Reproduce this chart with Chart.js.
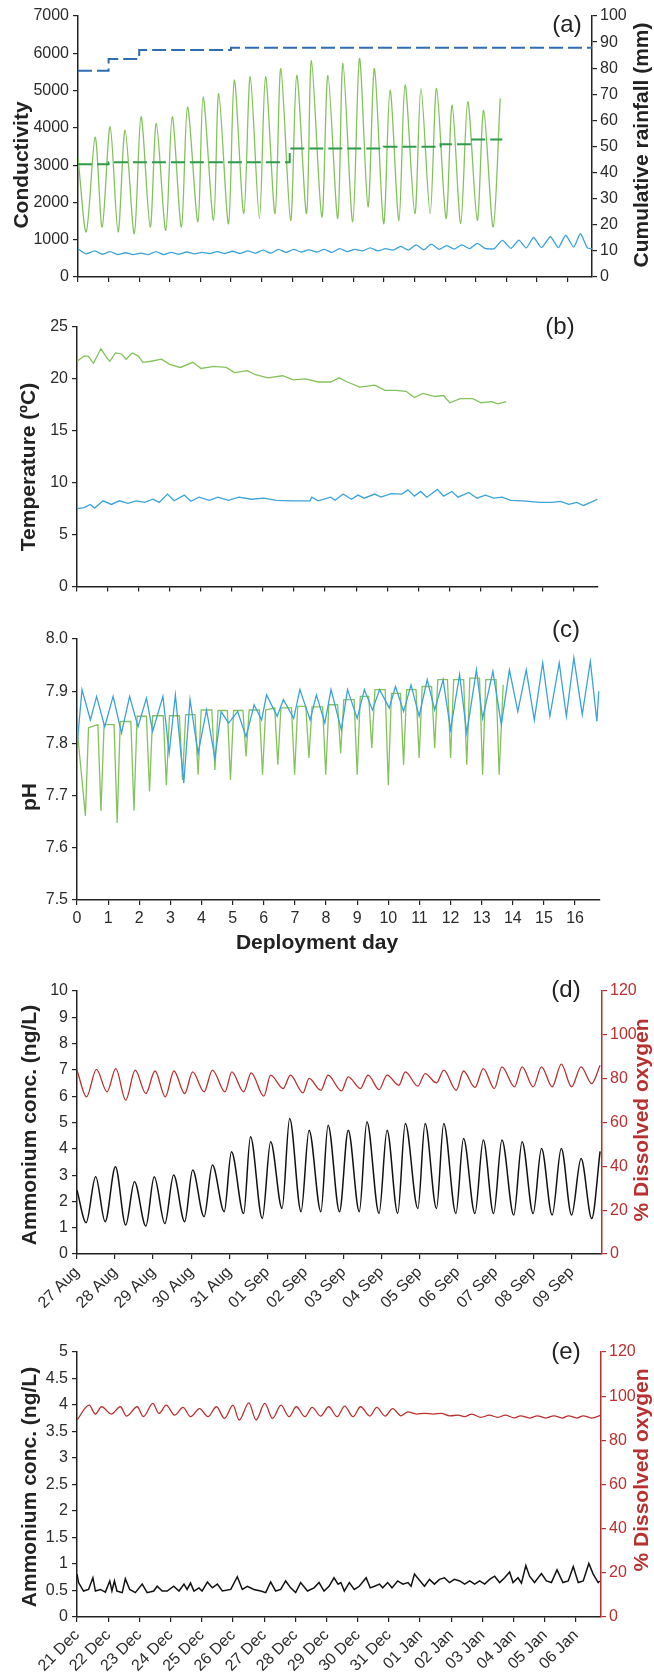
<!DOCTYPE html>
<html>
<head>
<meta charset="utf-8">
<script src="https://cdn.jsdelivr.net/npm/chart.js@4.4.1/dist/chart.umd.min.js"></script>
<style>
  html, body { margin: 0; padding: 0; background: #fff; }
  #wrap { position: relative; width: 654px; height: 1675px; }
  canvas { position: absolute; left: 0; }
</style>
</head>
<body>
<div id="wrap">
  <canvas id="pa" width="654" height="300" style="top:0px;width:654px;height:300px"></canvas>
  <canvas id="pb" width="654" height="300" style="top:300px;width:654px;height:300px"></canvas>
  <canvas id="pc" width="654" height="360" style="top:600px;width:654px;height:360px"></canvas>
  <canvas id="pd" width="654" height="350" style="top:960px;width:654px;height:350px"></canvas>
  <canvas id="pe" width="654" height="365" style="top:1310px;width:654px;height:365px"></canvas>
</div>
<script>
// ---- data (x = deployment day) ----
// (a) conductivity
const aGreenDays = [0, 0.27, 0.56, 0.79, 1.05, 1.31, 1.54, 1.84, 2.06, 2.36, 2.56, 2.87, 3.08, 3.38, 3.58, 3.92, 4.09, 4.43, 4.60, 4.92, 5.11, 5.42, 5.63, 5.93, 6.13, 6.44, 6.63, 6.95, 7.15, 7.47, 7.63, 7.97, 8.17, 8.49, 8.66, 8.98, 9.20, 9.48, 9.69, 9.99, 10.20, 10.49, 10.69, 11.01, 11.21, 11.51, 11.72, 12.03, 12.23, 12.51, 12.74, 13.05, 13.26, 13.57, 13.80];
const aGreenCond = [3200, 1210, 3750, 1340, 4030, 1210, 3940, 1160, 4300, 1340, 4120, 1250, 4300, 1340, 4560, 1480, 4830, 1520, 4920, 1430, 5280, 1700, 5370, 1570, 5370, 1700, 5590, 1520, 5410, 1700, 5800, 1610, 5410, 1570, 5730, 1480, 5860, 1880, 5590, 1430, 5010, 1520, 5150, 1700, 5060, 1700, 5060, 1570, 4610, 1430, 4700, 1520, 4470, 1340, 4790];
const aBlueDays = [0, 0.25, 0.55, 0.8, 1.05, 1.3, 1.55, 1.8, 2.05, 2.3, 2.55, 2.8, 3.05, 3.3, 3.55, 3.8, 4.05, 4.3, 4.55, 4.8, 5.05, 5.3, 5.55, 5.8, 6.05, 6.3, 6.55, 6.8, 7.05, 7.3, 7.55, 7.8, 8.05, 8.3, 8.55, 8.8, 9.05, 9.3, 9.55, 9.8, 10.05, 10.3, 10.55, 10.8, 11.05, 11.3, 11.55, 11.8, 12.05, 12.3, 12.55, 12.8, 13.05, 13.3, 13.6, 13.87, 14.15, 14.41, 14.65, 14.89, 15.15, 15.44, 15.7, 15.94, 16.2, 16.42, 16.65, 16.8];
const aBlueCond = [760, 620, 700, 610, 680, 600, 650, 600, 640, 600, 680, 600, 660, 610, 670, 620, 660, 630, 680, 630, 690, 630, 700, 640, 720, 640, 740, 660, 740, 670, 730, 670, 740, 660, 760, 680, 740, 700, 780, 700, 760, 720, 820, 720, 860, 730, 880, 740, 840, 750, 860, 760, 900, 770, 760, 980, 770, 990, 780, 1060, 790, 1080, 790, 1120, 800, 1160, 780, 760];
// cumulative rainfall (right axis, mm)
const rainBlueDays = [0, 1.0, 2.0, 5.0, 16.8];
const rainBlueMm = [79, 83.5, 87, 87.8, 87.8];
const rainGreenDays = [0, 1.0, 6.92, 9.99, 11.85, 12.85, 13.87];
const rainGreenMm = [43.2, 44, 49.2, 49.9, 50.9, 52.7, 52.7];

// (b) temperature
const bGreenDays = [0, 0.23, 0.36, 0.53, 0.77, 0.97, 1.06, 1.24, 1.44, 1.58, 1.78, 1.98, 2.12, 2.39, 2.72, 2.99, 3.33, 3.73, 4.00, 4.41, 4.81, 5.08, 5.49, 5.75, 6.16, 6.63, 6.97, 7.37, 7.78, 8.18, 8.45, 8.72, 9.12, 9.60, 9.93, 10.27, 10.61, 10.88, 11.15, 11.55, 11.82, 12.02, 12.36, 12.76, 13.03, 13.37, 13.57, 13.84];
const bGreenTemp = [21.7, 22.2, 22.2, 21.5, 22.9, 22.0, 21.7, 22.5, 22.4, 21.9, 22.5, 22.2, 21.6, 21.7, 21.9, 21.4, 21.1, 21.6, 21.0, 21.2, 21.1, 20.6, 20.8, 20.4, 20.1, 20.3, 19.9, 20.0, 19.7, 19.7, 20.1, 19.7, 19.2, 19.4, 18.9, 18.9, 18.8, 18.2, 18.6, 18.3, 18.4, 17.7, 18.1, 18.1, 17.7, 17.8, 17.6, 17.8];
const bBlueDays = [0, 0.23, 0.43, 0.57, 0.84, 1.11, 1.37, 1.64, 1.91, 2.18, 2.45, 2.65, 2.92, 3.13, 3.46, 3.67, 3.94, 4.27, 4.54, 4.88, 5.22, 5.62, 6.02, 6.43, 6.97, 7.51, 7.57, 7.78, 8.18, 8.32, 8.58, 8.85, 9.06, 9.26, 9.60, 9.80, 10.13, 10.47, 10.67, 10.88, 11.08, 11.28, 11.62, 11.82, 12.09, 12.29, 12.63, 12.90, 13.17, 13.44, 13.71, 13.98, 14.38, 14.92, 15.32, 15.59, 15.86, 16.12, 16.33, 16.60, 16.78];
const bBlueTemp = [7.5, 7.6, 7.9, 7.55, 8.25, 7.9, 8.25, 8.0, 8.25, 8.1, 8.4, 8.1, 8.9, 8.25, 8.8, 8.2, 8.6, 8.3, 8.6, 8.3, 8.6, 8.4, 8.5, 8.3, 8.25, 8.25, 8.6, 8.25, 8.6, 8.3, 8.9, 8.4, 8.8, 8.5, 8.9, 8.6, 8.95, 8.9, 9.3, 8.7, 9.15, 8.6, 9.35, 8.7, 9.15, 8.6, 9.05, 8.5, 8.8, 8.5, 8.6, 8.3, 8.25, 8.1, 8.1, 8.2, 7.9, 8.1, 7.8, 8.15, 8.4];

// (c) pH
const cGreenDays = [0, 0.27, 0.37, 0.67, 0.77, 0.87, 1.19, 1.29, 1.39, 1.73, 1.83, 1.93, 2.23, 2.33, 2.43, 2.77, 2.87, 2.97, 3.29, 3.39, 3.49, 3.79, 3.89, 3.99, 4.33, 4.43, 4.53, 4.83, 4.93, 5.03, 5.33, 5.43, 5.53, 5.86, 5.96, 6.06, 6.35, 6.45, 6.55, 6.89, 6.99, 7.09, 7.35, 7.45, 7.55, 7.89, 7.99, 8.09, 8.37, 8.47, 8.57, 8.9, 9.0, 9.1, 9.37, 9.47, 9.57, 9.9, 10.0, 10.1, 10.39, 10.49, 10.59, 10.89, 10.99, 11.09, 11.39, 11.49, 11.59, 11.9, 12.0, 12.1, 12.42, 12.52, 12.62, 12.93, 13.03, 13.13, 13.46, 13.56, 13.69];
const cGreenPh = [7.83, 7.661, 7.83, 7.836, 7.671, 7.836, 7.836, 7.648, 7.842, 7.842, 7.671, 7.852, 7.852, 7.708, 7.853, 7.853, 7.72, 7.853, 7.853, 7.73, 7.855, 7.855, 7.74, 7.864, 7.864, 7.749, 7.863, 7.863, 7.73, 7.863, 7.863, 7.775, 7.864, 7.864, 7.74, 7.864, 7.868, 7.759, 7.868, 7.868, 7.74, 7.871, 7.871, 7.772, 7.87, 7.87, 7.74, 7.874, 7.874, 7.781, 7.884, 7.884, 7.74, 7.89, 7.89, 7.791, 7.903, 7.903, 7.72, 7.896, 7.896, 7.759, 7.903, 7.903, 7.772, 7.909, 7.909, 7.791, 7.922, 7.922, 7.772, 7.922, 7.922, 7.759, 7.925, 7.925, 7.74, 7.922, 7.922, 7.74, 7.912];
const cBlueDays = [0, 0.16, 0.43, 0.63, 0.89, 1.16, 1.43, 1.69, 1.96, 2.23, 2.43, 2.76, 2.96, 3.16, 3.43, 3.63, 3.89, 4.16, 4.43, 4.63, 4.87, 5.16, 5.43, 5.69, 5.93, 6.09, 6.43, 6.63, 6.96, 7.16, 7.49, 7.69, 7.96, 8.16, 8.49, 8.69, 9.00, 9.23, 9.49, 9.72, 10.03, 10.23, 10.49, 10.73, 10.99, 11.25, 11.49, 11.76, 12.0, 12.29, 12.52, 12.83, 13.03, 13.36, 13.63, 13.89, 14.16, 14.43, 14.69, 14.96, 15.19, 15.49, 15.72, 15.96, 16.23, 16.49, 16.70, 16.76];
const cBluePh = [7.794, 7.903, 7.845, 7.89, 7.832, 7.89, 7.82, 7.89, 7.832, 7.887, 7.823, 7.89, 7.781, 7.893, 7.724, 7.884, 7.781, 7.864, 7.772, 7.861, 7.839, 7.861, 7.813, 7.874, 7.845, 7.893, 7.852, 7.884, 7.848, 7.903, 7.845, 7.893, 7.839, 7.903, 7.826, 7.903, 7.848, 7.903, 7.864, 7.903, 7.868, 7.909, 7.861, 7.912, 7.852, 7.922, 7.864, 7.922, 7.826, 7.932, 7.82, 7.941, 7.848, 7.938, 7.836, 7.941, 7.861, 7.941, 7.845, 7.954, 7.852, 7.954, 7.852, 7.964, 7.855, 7.957, 7.842, 7.90];
const dayTicks = ['0', '1', '2', '3', '4', '5', '6', '7', '8', '9', '10', '11', '12', '13', '14', '15', '16'];

// (d) ammonium + dissolved oxygen, days from 27 Aug
const dDates = ['27 Aug', '28 Aug', '29 Aug', '30 Aug', '31 Aug', '01 Sep', '02 Sep', '03 Sep', '04 Sep', '05 Sep', '06 Sep', '07 Sep', '08 Sep', '09 Sep'];
const dAmmDays = [0, 0.24, 0.49, 0.74, 1.01, 1.28, 1.51, 1.81, 2.03, 2.31, 2.54, 2.83, 3.04, 3.34, 3.56, 3.87, 4.06, 4.38, 4.56, 4.87, 5.09, 5.39, 5.59, 5.89, 6.10, 6.41, 6.60, 6.90, 7.13, 7.42, 7.62, 7.94, 8.15, 8.43, 8.63, 8.96, 9.15, 9.45, 9.64, 9.96, 10.16, 10.46, 10.68, 10.95, 11.17, 11.48, 11.70, 11.99, 12.21, 12.49, 12.73, 13.0, 13.25, 13.53, 13.75];
const dAmm = [2.43, 1.19, 2.94, 1.23, 3.32, 1.10, 2.75, 1.06, 2.94, 1.16, 3.0, 1.23, 3.19, 1.42, 3.38, 1.61, 3.89, 1.54, 4.46, 1.35, 4.27, 1.73, 5.15, 1.61, 4.71, 1.61, 4.9, 1.61, 4.71, 1.61, 5.03, 1.54, 4.71, 1.54, 4.96, 1.73, 4.96, 1.73, 4.96, 1.54, 4.39, 1.54, 4.33, 1.54, 4.33, 1.48, 4.27, 1.54, 4.01, 1.48, 4.01, 1.48, 3.63, 1.35, 3.9];
const dDoDays = [0, 0.25, 0.51, 0.79, 1.02, 1.28, 1.53, 1.81, 2.05, 2.32, 2.55, 2.83, 3.04, 3.34, 3.56, 3.89, 4.07, 4.38, 4.58, 4.91, 5.09, 5.42, 5.61, 5.94, 6.10, 6.41, 6.60, 6.95, 7.13, 7.45, 7.65, 7.94, 8.15, 8.46, 8.63, 8.96, 9.15, 9.45, 9.64, 9.97, 10.16, 10.46, 10.68, 10.97, 11.17, 11.50, 11.70, 11.99, 12.21, 12.49, 12.73, 13.0, 13.25, 13.53, 13.75];
const dDo = [83.9, 71.7, 84.2, 74.0, 84.6, 70.2, 83.9, 73.2, 83.5, 71.7, 83.5, 73.2, 83.1, 74.0, 83.9, 74.0, 83.1, 74.0, 82.6, 72.0, 81.6, 75.5, 81.6, 73.5, 80.1, 74.7, 81.6, 74.4, 80.8, 75.5, 81.6, 75.0, 81.6, 77.0, 83.1, 76.6, 82.3, 78.1, 83.9, 74.7, 83.5, 76.0, 84.6, 75.5, 85.4, 76.3, 85.4, 76.3, 85.4, 76.3, 86.6, 76.3, 85.4, 77.8, 86.1];

// (e) ammonium + dissolved oxygen, days from 21 Dec
const eDates = ['21 Dec', '22 Dec', '23 Dec', '24 Dec', '25 Dec', '26 Dec', '27 Dec', '28 Dec', '29 Dec', '30 Dec', '31 Dec', '01 Jan', '02 Jan', '03 Jan', '04 Jan', '05 Jan', '06 Jan'];
const eAmmDays = [0, 0.05, 0.21, 0.37, 0.51, 0.59, 0.75, 0.91, 1.05, 1.12, 1.20, 1.28, 1.45, 1.55, 1.69, 1.87, 2.09, 2.25, 2.46, 2.57, 2.73, 2.89, 3.10, 3.27, 3.43, 3.53, 3.64, 3.75, 3.91, 4.01, 4.18, 4.34, 4.50, 4.66, 4.93, 5.14, 5.30, 5.46, 5.67, 5.89, 6.05, 6.21, 6.37, 6.53, 6.69, 6.85, 7.01, 7.17, 7.39, 7.60, 7.76, 7.92, 8.08, 8.24, 8.37, 8.46, 8.57, 8.73, 8.89, 9.05, 9.27, 9.40, 9.54, 9.70, 9.80, 9.96, 10.10, 10.28, 10.45, 10.61, 10.71, 10.82, 11.00, 11.14, 11.30, 11.46, 11.62, 11.78, 11.94, 12.10, 12.27, 12.43, 12.59, 12.75, 12.91, 13.07, 13.23, 13.39, 13.55, 13.71, 13.87, 13.98, 14.14, 14.25, 14.39, 14.51, 14.67, 14.89, 15.05, 15.21, 15.39, 15.58, 15.75, 15.91, 16.07, 16.23, 16.41, 16.55, 16.71, 16.76];
const eAmm = [0.81, 0.65, 0.49, 0.52, 0.74, 0.49, 0.52, 0.47, 0.68, 0.49, 0.68, 0.49, 0.46, 0.72, 0.52, 0.46, 0.62, 0.46, 0.49, 0.58, 0.49, 0.49, 0.58, 0.49, 0.62, 0.52, 0.64, 0.49, 0.55, 0.49, 0.66, 0.55, 0.62, 0.49, 0.52, 0.76, 0.52, 0.58, 0.52, 0.49, 0.46, 0.66, 0.49, 0.52, 0.68, 0.55, 0.46, 0.65, 0.49, 0.55, 0.65, 0.49, 0.58, 0.74, 0.62, 0.65, 0.49, 0.65, 0.52, 0.58, 0.74, 0.55, 0.58, 0.62, 0.55, 0.65, 0.55, 0.68, 0.62, 0.65, 0.58, 0.81, 0.68, 0.58, 0.71, 0.62, 0.71, 0.74, 0.65, 0.71, 0.68, 0.62, 0.68, 0.62, 0.68, 0.62, 0.71, 0.77, 0.65, 0.74, 0.85, 0.65, 0.74, 0.64, 0.97, 0.77, 0.65, 0.82, 0.68, 0.65, 0.89, 0.65, 0.68, 0.95, 0.65, 0.68, 1.01, 0.81, 0.65, 0.68];
const eDoDays = [0, 0.39, 0.59, 0.79, 1.10, 1.39, 1.59, 1.93, 2.13, 2.43, 2.63, 2.86, 3.13, 3.40, 3.64, 3.93, 4.20, 4.47, 4.73, 5.0, 5.20, 5.51, 5.74, 6.02, 6.27, 6.54, 6.80, 7.03, 7.31, 7.54, 7.81, 8.07, 8.34, 8.58, 8.85, 9.09, 9.39, 9.61, 9.88, 10.12, 10.39, 10.61, 10.88, 11.15, 11.42, 11.68, 11.95, 12.22, 12.42, 12.66, 12.95, 13.22, 13.49, 13.73, 14.02, 14.22, 14.52, 14.76, 15.03, 15.29, 15.56, 15.76, 16.03, 16.23, 16.5, 16.8];
const eDo = [89.2, 95.9, 91.9, 95.2, 91.9, 95.2, 91.0, 95.2, 90.7, 96.7, 92.2, 95.9, 91.4, 94.9, 90.7, 94.4, 90.7, 95.2, 89.9, 95.9, 89.2, 97.0, 89.2, 96.7, 89.9, 95.9, 90.7, 95.2, 90.7, 94.9, 91.0, 95.2, 90.7, 95.5, 90.7, 95.2, 91.0, 94.9, 91.0, 94.4, 91.1, 92.9, 91.9, 92.2, 91.9, 92.2, 91.1, 91.4, 90.7, 91.9, 90.4, 91.4, 90.4, 91.4, 90.2, 91.1, 90.1, 91.1, 90.1, 91.1, 90.1, 91.1, 90.1, 91.1, 90.1, 91.4];

// ---- styling ----
const GREEN = '#84c25c', BLUE = '#3aa3d8', BLUE_D = '#2f6db0', GREEN_D = '#2e9a4a';
const RED = '#b8302f', BLACK = '#111111', AXIS = '#222222', LABEL = '#2b2b2b';
const TICK_FAMILY = "'Liberation Sans Narrow', 'Liberation Sans', Arial, sans-serif";
const TITLE_FONT = "bold 21px 'Liberation Sans', Arial, sans-serif";
const PANEL_FONT = "24px 'Liberation Sans', Arial, sans-serif";
const UP = -Math.PI / 2;

const pts = (xs, ys) => xs.map((x, i) => ({ x: x, y: ys[i] }));

function line(xs, ys, color, extra) {
  return Object.assign({
    data: pts(xs, ys), borderColor: color, borderWidth: 1.3,
    pointRadius: 0, fill: false, tension: 0
  }, extra || {});
}

// free text (axis titles, panel letters) drawn after the chart
function decor(items) {
  return {
    id: 'decor',
    afterDraw(chart) {
      const ctx = chart.ctx;
      items.forEach(it => {
        ctx.save();
        ctx.font = it.font;
        ctx.fillStyle = it.color || AXIS;
        ctx.textAlign = 'center';
        ctx.textBaseline = 'middle';
        ctx.translate(it.x, it.y);
        if (it.rot) ctx.rotate(it.rot);
        ctx.fillText(it.text, 0, 0);
        ctx.restore();
      });
    }
  };
}

function xAxis(max, height, o) {
  o = o || {};
  return {
    type: 'linear', min: 0, max: max,
    ticks: {
      stepSize: 1, includeBounds: false, autoSkip: false,
      display: !!o.labels, color: LABEL, padding: 4,
      font: { family: TICK_FAMILY, size: 16 },
      maxRotation: o.rot || 0, minRotation: o.rot || 0,
      callback: v => o.labels ? (o.labels[Math.round(v)] || '') : ''
    },
    grid: { drawOnChartArea: false, drawTicks: true, tickLength: 5, color: AXIS, tickColor: AXIS, lineWidth: 1.2 },
    border: { display: true, color: AXIS, width: 1.5 },
    afterFit: s => { s.height = height; }
  };
}

function yAxis(min, max, step, width, o) {
  o = o || {};
  const col = o.color || AXIS;
  return {
    type: 'linear', position: o.right ? 'right' : 'left', min: min, max: max,
    ticks: {
      stepSize: step, color: o.color || LABEL, padding: o.right ? 3 : 4,
      font: { family: TICK_FAMILY, size: 16 },
      callback: o.fmt || (v => String(v))
    },
    grid: { drawOnChartArea: false, drawTicks: true, tickLength: 5, color: col, tickColor: col, lineWidth: 1.2 },
    border: { display: true, color: col, width: 1.5 },
    afterFit: s => { s.width = width; }
  };
}

function panel(id, datasets, scales, padding, items) {
  new Chart(document.getElementById(id), {
    type: 'line',
    data: { datasets: datasets },
    options: {
      responsive: false, animation: false, events: [],
      layout: { padding: padding },
      plugins: { legend: { display: false }, tooltip: { enabled: false } },
      scales: scales
    },
    plugins: [decor(items)]
  });
}

// (a)
panel('pa', [
  line(rainBlueDays, rainBlueMm, BLUE_D, { yAxisID: 'yR', stepped: true, borderWidth: 2, borderDash: [14, 5] }),
  line(rainGreenDays, rainGreenMm, GREEN_D, { yAxisID: 'yR', stepped: true, borderWidth: 2, borderDash: [14, 5] }),
  line(aGreenDays, aGreenCond, GREEN, { yAxisID: 'y', tension: 0.3 }),
  line(aBlueDays, aBlueCond, BLUE, { yAxisID: 'y', tension: 0.2 })
], {
  x: xAxis(16.8, 23),
  y: yAxis(0, 7000, 1000, 78),
  yR: yAxis(0, 100, 10, 62, { right: true })
}, { top: 16, left: 0, right: 0, bottom: 0 }, [
  { text: 'Conductivity', x: 22, y: 165, rot: UP, font: TITLE_FONT },
  { text: 'Cumulative rainfall (mm)', x: 642, y: 145, rot: UP, font: TITLE_FONT },
  { text: '(a)', x: 567, y: 25, font: PANEL_FONT }
]);

// (b)
panel('pb', [
  line(bGreenDays, bGreenTemp, GREEN),
  line(bBlueDays, bBlueTemp, BLUE)
], {
  x: xAxis(16.8, 10),
  y: yAxis(0, 25, 5, 77)
}, { top: 27, left: 0, right: 56, bottom: 0 }, [
  { text: 'Temperature (ºC)', x: 29, y: 167, rot: UP, font: TITLE_FONT },
  { text: '(b)', x: 560, y: 27, font: PANEL_FONT }
]);

// (c)
panel('pc', [
  line(cBlueDays, cBluePh, BLUE),
  line(cGreenDays, cGreenPh, GREEN)
], {
  x: xAxis(16.8, 60, { labels: dayTicks }),
  y: yAxis(7.5, 8.0, 0.1, 77, { fmt: v => v.toFixed(1) })
}, { top: 39, left: 0, right: 54, bottom: 0 }, [
  { text: 'pH', x: 30, y: 197, rot: UP, font: TITLE_FONT },
  { text: 'Deployment day', x: 317, y: 343, font: TITLE_FONT },
  { text: '(c)', x: 566, y: 30, font: PANEL_FONT }
]);

// (d)
panel('pd', [
  line(dDoDays, dDo, RED, { yAxisID: 'yR', cubicInterpolationMode: 'monotone' }),
  line(dAmmDays, dAmm, BLACK, { yAxisID: 'y', borderWidth: 1.5, cubicInterpolationMode: 'monotone' })
], {
  x: xAxis(13.8, 56, { labels: dDates, rot: 45 }),
  y: yAxis(0, 10, 1, 77),
  yR: yAxis(0, 120, 20, 52, { right: true, color: RED })
}, { top: 31, left: 0, right: 0, bottom: 0 }, [
  { text: 'Ammonium conc. (ng/L)', x: 30, y: 165, rot: UP, font: TITLE_FONT },
  { text: '% Dissolved oxygen', x: 642, y: 160, rot: UP, font: TITLE_FONT, color: RED },
  { text: '(d)', x: 566, y: 30, font: PANEL_FONT }
]);

// (e)
panel('pe', [
  line(eDoDays, eDo, RED, { yAxisID: 'yR', cubicInterpolationMode: 'monotone' }),
  line(eAmmDays, eAmm, BLACK, { yAxisID: 'y', borderWidth: 1.5 })
], {
  x: xAxis(16.8, 58, { labels: eDates, rot: 45 }),
  y: yAxis(0, 5, 0.5, 77),
  yR: yAxis(0, 120, 20, 53, { right: true, color: RED })
}, { top: 42, left: 0, right: 0, bottom: 0 }, [
  { text: 'Ammonium conc. (ng/L)', x: 30, y: 177, rot: UP, font: TITLE_FONT },
  { text: '% Dissolved oxygen', x: 642, y: 160, rot: UP, font: TITLE_FONT, color: RED },
  { text: '(e)', x: 566, y: 42, font: PANEL_FONT }
]);
</script>
</body>
</html>
